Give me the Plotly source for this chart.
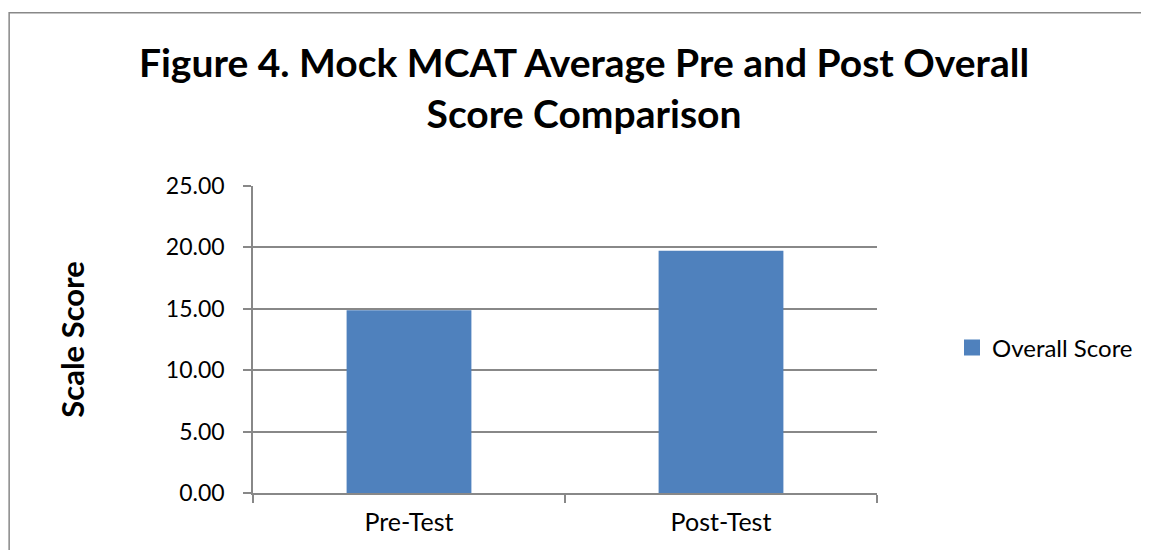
import plotly.graph_objects as go

categories = ["Pre-Test", "Post-Test"]
overall_score = [14.88, 19.72]
series_name = "Overall Score"
title_text = "Figure 4. Mock MCAT Average Pre and Post Overall<br>Score Comparison"
y_title = "Scale Score"

# Page body has an 8px margin; work in screenshot pixels and convert.
OFF = 8
SW, SH = 1149, 550
W, H = SW - OFF, SH - OFF
L, R, T, B = 253, 878, 186, 493     # plot area in screenshot pixels
grey = "#888888"
blue = "#4F81BD"
font_family = "Lato, 'Open Sans', sans-serif"

def px_x(p):
    return (p - L) / (R - L)

def px_y(p):
    return (B - p) / (B - T)

fig = go.Figure()
fig.add_trace(go.Bar(
    x=categories, y=overall_score, name=series_name,
    marker=dict(color=blue, line=dict(width=0)),
    showlegend=False,
))
# legend entry with a larger square swatch
fig.add_trace(go.Scatter(
    x=[None], y=[None], mode="markers", name=series_name,
    marker=dict(symbol="square", size=16, color=blue),
    showlegend=True,
))

fig.update_layout(
    width=W, height=H,
    margin=dict(l=L - OFF, r=W - (R - OFF), t=T - OFF, b=H - (B - OFF), pad=0),
    paper_bgcolor="white", plot_bgcolor="white",
    bargap=0.6,
    font=dict(family=font_family, color="black"),
    title=dict(text=title_text, x=(584 - OFF) / W, xanchor="center",
               y=1 - (90 - OFF - 12.6) / H, yanchor="middle", yref="container",
               font=dict(size=39, family=font_family, color="black", weight="bold")),
    showlegend=True,
    legend=dict(x=px_x(952), xanchor="left", y=px_y(348), yanchor="middle",
                font=dict(size=24, color="black"), bgcolor="rgba(0,0,0,0)",
                itemwidth=30, tracegroupgap=0),
    xaxis=dict(type="category", showline=True, linecolor=grey, linewidth=1.5,
               ticks="outside", tickson="boundaries", ticklen=8, tickcolor=grey, tickwidth=1.5,
               tickfont=dict(size=25, color="black"), showgrid=False,
               ticklabelstandoff=6),
    yaxis=dict(range=[0, 25], dtick=5, tickformat=".2f", showline=True, linecolor=grey, linewidth=1.5,
               ticks="outside", ticklen=8, tickcolor=grey, tickwidth=1.5,
               showgrid=True, gridcolor=grey, gridwidth=1.5, zeroline=False,
               tickfont=dict(size=23, color="black"), ticklabelstandoff=14,
               title=dict(text=y_title, standoff=72,
                          font=dict(size=31, color="black", weight="bold"))),
    shapes=[dict(type="rect", xref="paper", yref="paper",
                 x0=px_x(OFF + 0.75), x1=px_x(SW + 20), y0=px_y(OFF + 4.7), y1=px_y(SH + 20),
                 line=dict(color=grey, width=1.5), fillcolor="rgba(0,0,0,0)", layer="below")],
)

fig.write_html("out.html")
